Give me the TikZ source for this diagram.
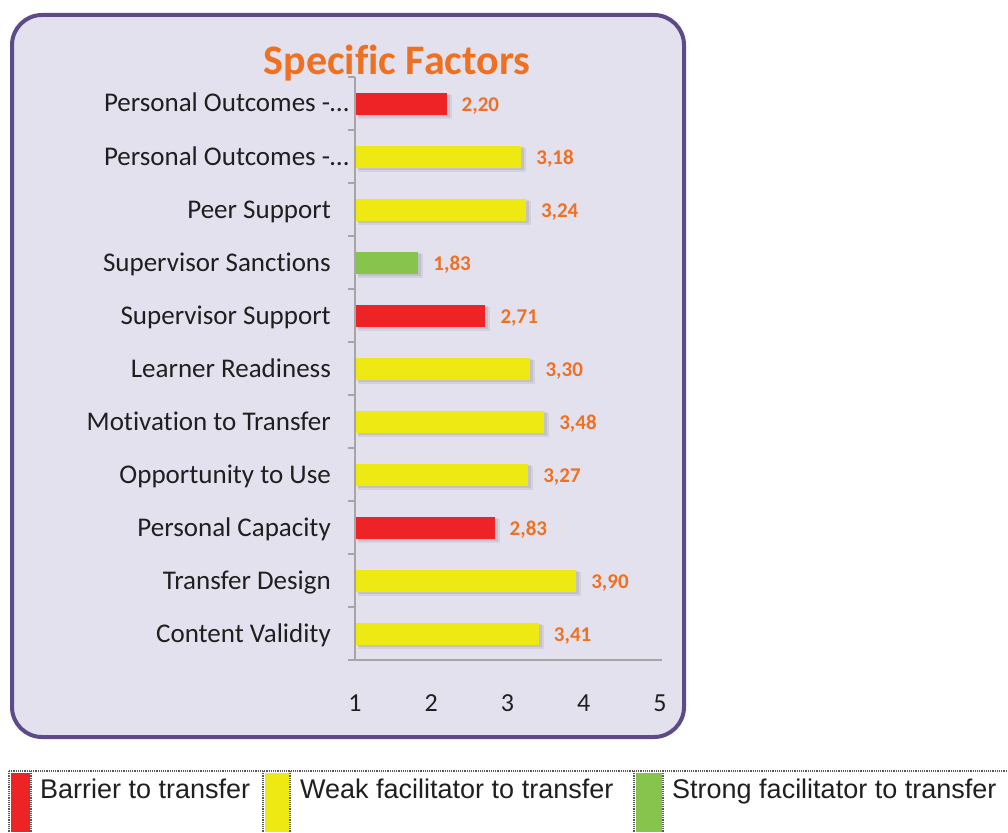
\documentclass[tikz,border=0pt]{standalone}
\usepackage{fontspec}
\setmainfont{Carlito}[Ligatures={NoCommon}]
\newfontfamily\legendfont{Liberation Sans}
\usepackage{tikz}

\definecolor{framepurple}{HTML}{5E4A88}
\definecolor{panelback}{HTML}{E3E1EE}
\definecolor{titleorange}{HTML}{F07022}
\definecolor{barred}{HTML}{EE2325}
\definecolor{baryellow}{HTML}{EEE813}
\definecolor{bargreen}{HTML}{86C44E}
\definecolor{axisgray}{HTML}{A6A6A6}

\begin{document}
\begin{tikzpicture}[x=1pt,y=-1pt,
  catlabel/.style={anchor=base east,inner sep=0pt,font=\fontsize{27}{31}\selectfont,text=black!88},
  vallabel/.style={anchor=base west,inner sep=0pt,font=\fontsize{21}{25}\selectfont\bfseries,text=titleorange},
  ticklabel/.style={anchor=base,inner sep=0pt,font=\fontsize{26}{30}\selectfont,text=black!88},
  legendtext/.style={anchor=base west,inner sep=0pt,font=\legendfont\fontsize{27}{31}\selectfont,text=black!88},
  legendrule/.style={densely dotted,line width=1.2pt,color=black!65}]
  \useasboundingbox (0,0) rectangle (1008,832);

  % panel and title
  \draw[line width=4pt,color=framepurple,fill=panelback,rounded corners=30pt] (12,15) rectangle (684,737);
  \node[anchor=base,inner sep=0pt,font=\fontsize{42}{48}\selectfont\bfseries,text=titleorange] (title) at (397,75) {Specific Factors};

  % bars (label right edge: 331, or 349 for the cut ones)
  \foreach \val/\txt/\col/\xl/\cat [count=\i from 0] in {
      2.20/{2,20}/barred/349/{Personal Outcomes -…},
      3.18/{3,18}/baryellow/349/{Personal Outcomes -…},
      3.24/{3,24}/baryellow/331/{Peer Support},
      1.83/{1,83}/bargreen/331/{Supervisor Sanctions},
      2.71/{2,71}/barred/331/{Supervisor Support},
      3.30/{3,30}/baryellow/331/{Learner Readiness},
      3.48/{3,48}/baryellow/331/{Motivation to Transfer},
      3.27/{3,27}/baryellow/331/{Opportunity to Use},
      2.83/{2,83}/barred/331/{Personal Capacity},
      3.90/{3,90}/baryellow/331/{Transfer Design},
      3.41/{3,41}/baryellow/331/{Content Validity}}{
    \pgfmathsetmacro{\yc}{104+53*\i}
    \pgfmathsetmacro{\xe}{355+(\val-1)*76.25}
    \fill[black,opacity=0.07] (358,\yc-9) rectangle (\xe+5,\yc+15);
    \fill[black,opacity=0.08] (358,\yc-10) rectangle (\xe+3,\yc+13);
    \fill[\col] (356,\yc-11) rectangle (\xe,\yc+11);
    \node[catlabel] (cat\i) at (\xl,\yc+8) {\cat};
    \node[vallabel] (val\i) at (\xe+15,\yc+7) {\txt};
  }

  % axes
  \draw[axisgray,line width=1.8pt] (355,77) -- (355,660);
  \draw[axisgray,line width=1.8pt] (348,660) -- (662,660);
  \foreach \k in {0,...,10}
    \draw[axisgray,line width=1.8pt] (348,77+53*\k) -- (355,77+53*\k);
  \foreach \t in {1,...,5}
    \node[ticklabel] (tick\t) at ({355+(\t-1)*76.25},711) {\t};

  % legend
  \draw[legendrule] (9,771) -- (1008,771);
  \foreach \xa in {9,31,263,290,634,663}
    \draw[legendrule] (\xa,771) -- (\xa,832);
  \fill[barred] (11,773) rectangle (30,832);
  \fill[baryellow] (265,773) rectangle (289,832);
  \fill[bargreen] (636,773) rectangle (662,832);
  \node[legendtext] (barrier) at (40,798) {Barrier to transfer};
  \node[legendtext] (weak) at (300,798) {Weak facilitator to transfer};
  \node[legendtext] (strong) at (672,798) {Strong facilitator to transfer};
\end{tikzpicture}
\end{document}
